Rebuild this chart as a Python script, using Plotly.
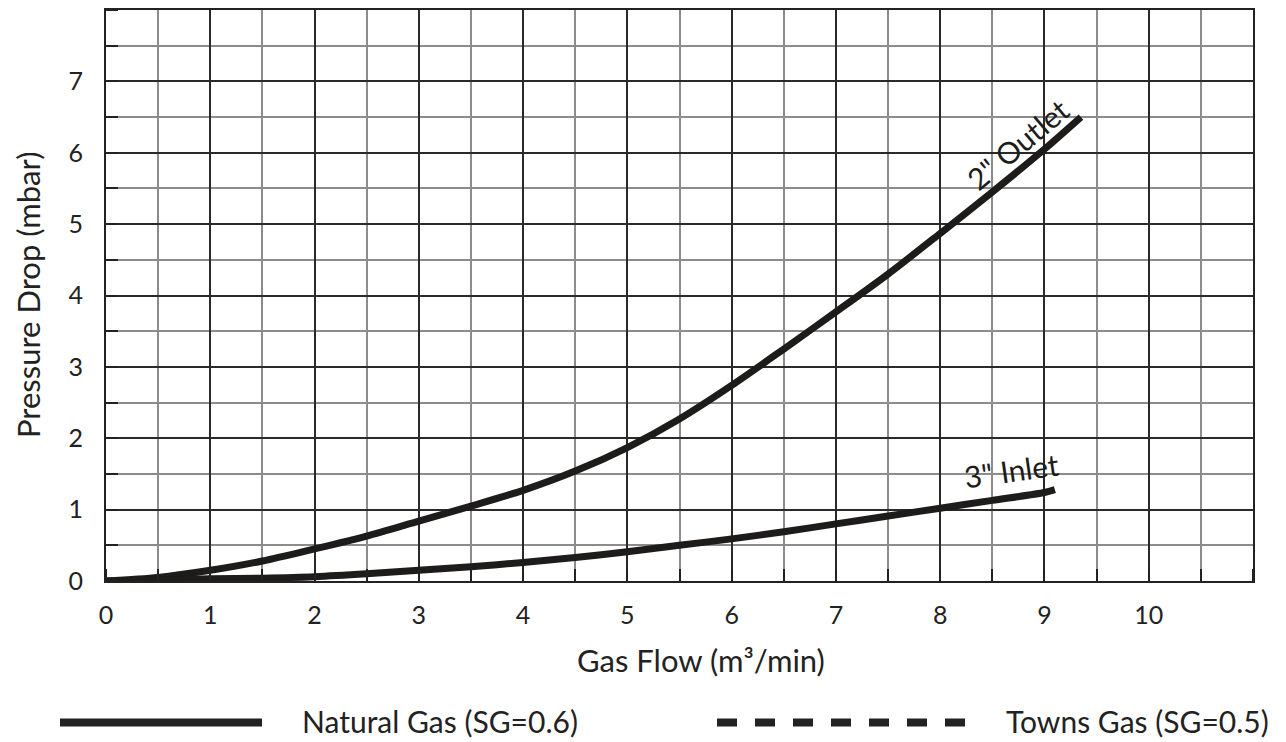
import plotly.graph_objects as go

# ---- data ----
flow_outlet = [0, 0.5, 1, 1.5, 2, 2.5, 3, 3.5, 4, 4.5, 5, 5.5, 6, 6.5, 7, 7.5, 8, 8.5, 9, 9.35]
drop_outlet = [0.0, 0.05, 0.15, 0.28, 0.45, 0.63, 0.84, 1.05, 1.27, 1.54, 1.87, 2.27, 2.74, 3.25, 3.77, 4.30, 4.87, 5.45, 6.05, 6.50]

flow_inlet = [0, 0.5, 1, 1.5, 2, 2.5, 3, 3.5, 4, 4.5, 5, 5.5, 6, 6.5, 7, 7.5, 8, 8.5, 9, 9.1]
drop_inlet = [0.0, 0.01, 0.03, 0.04, 0.06, 0.10, 0.15, 0.20, 0.26, 0.33, 0.41, 0.50, 0.59, 0.69, 0.80, 0.91, 1.02, 1.13, 1.24, 1.28]

x_ticks = list(range(0, 11))
y_ticks = list(range(0, 8))
series_names = ['2" Outlet', '3" Inlet']
legend_labels = ["Natural Gas (SG=0.6)", "Towns Gas (SG=0.5)"]
x_title = "Gas Flow (m³/min)"
y_title = "Pressure Drop (mbar)"

# ---- layout geometry (page body adds an 8px margin) ----
OFF = 8
W, H = 1286 - OFF, 742 - OFF
ML, MT = 106 - OFF, 8 - OFF
MR = W - (1253 - OFF)
MB = H - (581 - OFF)
PW, PH = W - ML - MR, H - MT - MB
FONT = "Lato"
INK = "#1e1b1b"


def px(xp):
    """reference-screen x pixel -> paper coordinate"""
    return (xp - OFF - ML) / PW


def py(yp):
    """reference-screen y pixel -> paper coordinate"""
    return (H - MB - (yp - OFF)) / PH


fig = go.Figure()
for xs, ys, name in [(flow_outlet, drop_outlet, series_names[0]),
                     (flow_inlet, drop_inlet, series_names[1])]:
    fig.add_trace(go.Scatter(x=xs, y=ys, mode="lines", name=name,
                             line=dict(color=INK, width=7, shape="spline", smoothing=0.8),
                             showlegend=False, hoverinfo="skip"))

axis_common = dict(
    showline=True, mirror=True, linecolor="#222", linewidth=2,
    showgrid=True, gridcolor="#2a2a2a", gridwidth=1.5,
    zeroline=False, ticks="",
    tickfont=dict(family=FONT, size=25, color="#222"),
)

fig.update_xaxes(range=[0, 11], tickmode="array", tickvals=x_ticks,
                 ticktext=[str(v) for v in x_ticks], ticklabelstandoff=11,
                 minor=dict(dtick=0.5, showgrid=True, gridcolor="#8c8c8c", gridwidth=1.5,
                            ticks="inside", ticklen=12, tickcolor="#222", tickwidth=1.5),
                 **axis_common)
fig.update_yaxes(range=[0, 8], tickmode="array", tickvals=y_ticks,
                 ticktext=[str(v) for v in y_ticks], ticklabelstandoff=16,
                 minor=dict(dtick=0.5, showgrid=True, gridcolor="#8c8c8c", gridwidth=1.5,
                            ticks="inside", ticklen=12, tickcolor="#222", tickwidth=1.5),
                 **axis_common)

annotations = [
    dict(x=8.74, y=6.12, xref="x", yref="y", text=series_names[0],
         textangle=-40, showarrow=False, font=dict(family=FONT, size=30, color=INK)),
    dict(x=8.68, y=1.55, xref="x", yref="y", text=series_names[1],
         textangle=-8, showarrow=False, font=dict(family=FONT, size=30, color=INK)),
    dict(x=px(701), y=py(660), xref="paper", yref="paper", text=x_title,
         showarrow=False, xanchor="center", yanchor="middle",
         font=dict(family=FONT, size=31, color="#222")),
    dict(x=px(28), y=py(294), xref="paper", yref="paper", text=y_title, textangle=-90,
         showarrow=False, xanchor="center", yanchor="middle",
         font=dict(family=FONT, size=31, color="#222")),
    dict(x=px(300), y=py(721), xref="paper", yref="paper", text=legend_labels[0],
         showarrow=False, xanchor="left", yanchor="middle",
         font=dict(family=FONT, size=30, color="#222")),
    dict(x=px(1004), y=py(721), xref="paper", yref="paper", text=legend_labels[1],
         showarrow=False, xanchor="left", yanchor="middle",
         font=dict(family=FONT, size=30, color="#222")),
]

shapes = [
    dict(type="line", xref="paper", yref="paper", x0=px(60), x1=px(262), y0=py(723), y1=py(723),
         line=dict(color="#222", width=8)),
    dict(type="line", xref="paper", yref="paper", x0=px(717), x1=px(965), y0=py(723), y1=py(723),
         line=dict(color="#222", width=8, dash="20px,18px")),
]

fig.update_layout(width=W, height=H, margin=dict(l=ML, r=MR, t=MT, b=MB),
                  paper_bgcolor="white", plot_bgcolor="white",
                  annotations=annotations, shapes=shapes, showlegend=False)

fig.write_html("out.html")
